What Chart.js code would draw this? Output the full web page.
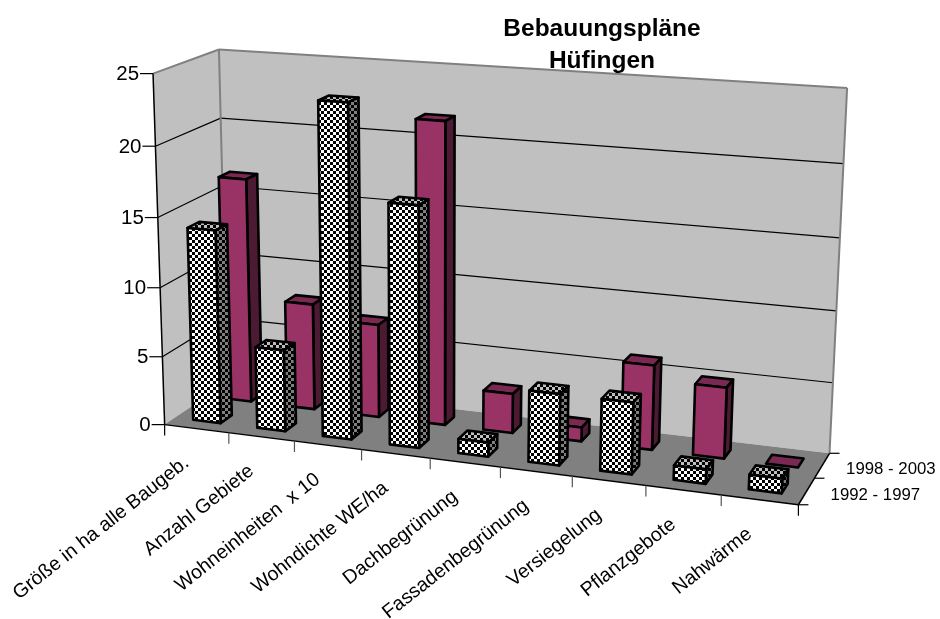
<!DOCTYPE html>
<html><head><meta charset="utf-8">
<style>html,body{margin:0;padding:0;background:#fff}canvas{display:block}</style>
<script src="https://cdn.jsdelivr.net/npm/chart.js@4/dist/chart.umd.js"></script>
</head><body><canvas id="c" width="940" height="619"></canvas>
<script>
const categories=['Größe in ha alle Baugeb.','Anzahl Gebiete','Wohneinheiten  x 10','Wohndichte WE/ha','Dachbegrünung','Fassadenbegrünung','Versiegelung','Pflanzgebote','Nahwärme'];
const seriesNames=['1992 - 1997','1998 - 2003'];
const values1992=[14,5.9,23.6,17,1,5,5,1,1];
const values1998=[16.5,7.8,6.8,21.7,2.85,1,6,5,0];
const titleLines=['Bebauungspläne','Hüfingen'];
const FONT='"Liberation Sans", Arial, sans-serif';

// frame of the 3D box: [u,v,w] -> screen
const frame=[
 [0,0,0,166,425],[0,1,0,152,73],[0,1,1,220,50],[0,0,1,226,382],
 [1,0,0,798,505],[1,0,1,830,453],[1,1,1,847,88]];
function solve(A,b){const n=b.length;for(let i=0;i<n;i++){let m=i;for(let r=i+1;r<n;r++)if(Math.abs(A[r][i])>Math.abs(A[m][i]))m=r;[A[i],A[m]]=[A[m],A[i]];[b[i],b[m]]=[b[m],b[i]];
 for(let r=i+1;r<n;r++){const f=A[r][i]/A[i][i];for(let c=i;c<n;c++)A[r][c]-=f*A[i][c];b[r]-=f*b[i];}}
 const x=Array(n);for(let i=n-1;i>=0;i--){let s=b[i];for(let c=i+1;c<n;c++)s-=A[i][c]*x[c];x[i]=s/A[i][i];}return x;}
const P=(function(){const rows=[],rhs=[];frame.forEach(([u,v,w,sx,sy])=>{
 rows.push([u,v,w,1,0,0,0,0,-sx*u,-sx*v,-sx*w]);rhs.push(sx);
 rows.push([0,0,0,0,u,v,w,1,-sy*u,-sy*v,-sy*w]);rhs.push(sy);});
 const N=Array.from({length:11},()=>Array(11).fill(0)),B=Array(11).fill(0);
 rows.forEach((r,k)=>{for(let i=0;i<11;i++){B[i]+=r[i]*rhs[k];for(let j=0;j<11;j++)N[i][j]+=r[i]*r[j];}});
 return solve(N,B);})();
function proj(u,v,w){const d=P[8]*u+P[9]*v+P[10]*w+1;return [(P[0]*u+P[1]*v+P[2]*w+P[3])/d,(P[4]*u+P[5]*v+P[6]*w+P[7])/d];}

function poly(ctx,pts,fill,stroke,lw){ctx.beginPath();pts.forEach((p,i)=>i?ctx.lineTo(p[0],p[1]):ctx.moveTo(p[0],p[1]));ctx.closePath();
 if(fill){ctx.fillStyle=fill;ctx.fill();}if(stroke){ctx.strokeStyle=stroke;ctx.lineWidth=lw||1;ctx.lineJoin='round';ctx.stroke();}}
function seg(ctx,a,b,col,lw){ctx.beginPath();ctx.moveTo(a[0],a[1]);ctx.lineTo(b[0],b[1]);ctx.strokeStyle=col;ctx.lineWidth=lw;ctx.stroke();}
function checker(ctx,light,dark){const s=3,c=document.createElement('canvas');c.width=c.height=s*2;const g=c.getContext('2d');g.fillStyle=light;g.fillRect(0,0,s*2,s*2);g.fillStyle=dark;g.fillRect(0,0,s,s);g.fillRect(s,s,s,s);return ctx.createPattern(c,'repeat');}

const DEPTH=0.18;
class Bar3D extends Chart.BarController{
 draw(){
  const ctx=this.chart.ctx,xs=this._cachedMeta.xScale,ys=this._cachedMeta.yScale,ds=this.getDataset();
  const idx=this.index,n=this.chart.data.datasets.length;
  const wc=(idx+0.5)/n, w0=wc-DEPTH/2, w1=wc+DEPTH/2;
  const faces=ds.check?[checker(ctx,'#fff','#000'),checker(ctx,'#c0c0c0','#000'),checker(ctx,'#808080','#000')]:['#993366','#7a2952','#4d1a33'];
  this._cachedMeta.data.forEach(el=>{
   const u0=(el.x-el.width/2-xs.left)/xs.width,u1=(el.x+el.width/2-xs.left)/xs.width;
   const v0=(ys.bottom-el.base)/ys.height,v1=(ys.bottom-el.y)/ys.height;
   const a=proj(u0,v0,w0),b=proj(u1,v0,w0),c=proj(u1,v1,w0),d=proj(u0,v1,w0);
   const e=proj(u1,v0,w1),f=proj(u1,v1,w1),g=proj(u0,v1,w1);
   ctx.save();
   poly(ctx,[d,c,f,g],faces[1],'#000',2.6);
   if(v1>v0){
    poly(ctx,[b,e,f,c],faces[2],'#000',2.6);
    poly(ctx,[a,b,c,d],faces[0],'#000',2.6);
   }
   ctx.restore();
  });
 }
}
Bar3D.id='bar3d';
Bar3D.defaults=Chart.BarController.defaults;
Chart.register(Bar3D);

const box3d={id:'box3d',
 beforeDatasetsDraw(chart){
  const ctx=chart.ctx,ys=chart.scales.y,xs=chart.scales.x;
  ctx.save();
  poly(ctx,[proj(0,0,0),proj(0,1,0),proj(0,1,1),proj(0,0,1)],'#c0c0c0');
  poly(ctx,[proj(0,0,1),proj(0,1,1),proj(1,1,1),proj(1,0,1)],'#c0c0c0');
  poly(ctx,[proj(0,0,0),proj(1,0,0),proj(1,0,1),proj(0,0,1)],'#808080');
  ys.ticks.forEach(t=>{
   const v=(ys.bottom-ys.getPixelForValue(t.value))/ys.height;
   if(v>0&&v<1){seg(ctx,proj(0,v,0),proj(0,v,1),'#000',1.2);seg(ctx,proj(0,v,1),proj(1,v,1),'#000',1.2);}
  });
  seg(ctx,proj(0,1,0),proj(0,1,1),'#808080',2);
  seg(ctx,proj(0,1,1),proj(1,1,1),'#808080',2);
  seg(ctx,proj(0,1,1),proj(0,0,1),'#808080',2);
  seg(ctx,proj(1,1,1),proj(1,0,1),'#808080',2);
  seg(ctx,proj(0,0,0),proj(0,1,0),'#000',1.5);
  seg(ctx,proj(0,0,0),proj(1,0,0),'#000',1.5);
  seg(ctx,proj(1,0,0),proj(1,0,1),'#000',1.5);
  ctx.fillStyle='#000';ctx.font='20.5px '+FONT;ctx.textAlign='right';ctx.textBaseline='middle';
  ys.ticks.forEach(t=>{
   const v=(ys.bottom-ys.getPixelForValue(t.value))/ys.height,p=proj(0,v,0);
   seg(ctx,[p[0]-13,p[1]],p,'#000',1.2);
   ctx.fillStyle='#000';ctx.fillText(t.label,p[0]-14,p[1]+1);
  });
  const n=categories.length;
  for(let i=0;i<=n;i++){const p=proj(i/n,0,0);seg(ctx,p,[p[0],p[1]+11],(i==0||i==n)?'#000':'#555',1.2);}
  ctx.font='19.6px '+FONT;
  categories.forEach((label,i)=>{
   const p=proj((xs.getPixelForValue(i)-xs.left)/xs.width,0,0);
   ctx.save();ctx.translate(p[0]-10,p[1]+32);ctx.rotate(-38.3*Math.PI/180);ctx.textAlign='right';ctx.textBaseline='middle';ctx.fillStyle='#000';
   ctx.fillText(label,0,0);ctx.restore();
  });
  for(let i=0;i<=seriesNames.length;i++){const p=proj(1,0,i/seriesNames.length);seg(ctx,p,[p[0]+10,p[1]],'#000',1.2);}
  ctx.font='16.8px '+FONT;ctx.textAlign='left';ctx.fillStyle='#000';
  seriesNames.forEach((s,i)=>{const p=proj(1,0,(i+0.5)/seriesNames.length);ctx.fillText(s,p[0]+24,p[1]+4);});
  ctx.font='bold 24.5px '+FONT;ctx.textAlign='center';
  titleLines.forEach((s,i)=>ctx.fillText(s,602,29+32*i));
  ctx.restore();
 }};

new Chart(document.getElementById('c'),{
 type:'bar3d',
 data:{labels:categories,datasets:[
  {label:seriesNames[0],data:values1992,check:true,backgroundColor:'#fff'},
  {label:seriesNames[1],data:values1998,backgroundColor:'#993366'}]},
 options:{responsive:false,animation:false,
  datasets:{bar3d:{grouped:false,barPercentage:0.43,categoryPercentage:1}},
  layout:{padding:0},
  plugins:{legend:{display:false},tooltip:{enabled:false},title:{display:false}},
  scales:{x:{type:'category',display:false,offset:true,grid:{offset:true}},
   y:{type:'linear',display:false,min:0,max:25,ticks:{stepSize:5}}}},
 plugins:[box3d]
});
</script></body></html>
